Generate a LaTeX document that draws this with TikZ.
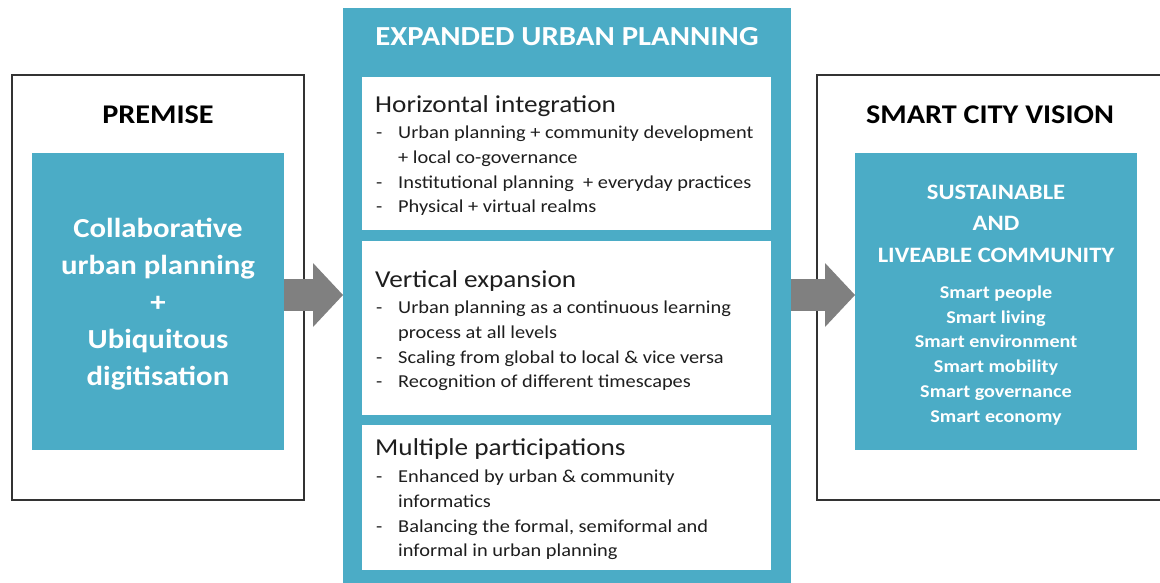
\documentclass[tikz,border=0pt]{standalone}
\usepackage{fontspec}
\setmainfont{Carlito}[FakeStretch=1.12]
\usetikzlibrary{arrows.meta}
\definecolor{tealfill}{HTML}{4BACC6}
\definecolor{arrowgray}{HTML}{808080}
\definecolor{bodytext}{HTML}{1E1E1E}
\definecolor{framegray}{HTML}{333333}
\begin{document}
\begin{tikzpicture}[x=1pt,y=-1pt,
  outerbox/.style={draw=framegray, line width=1.5pt, fill=white, inner sep=0pt, outer sep=0pt, anchor=north west},
  tealbox/.style={fill=tealfill, inner sep=0pt, outer sep=0pt, anchor=north west},
  whitebox/.style={fill=white, inner sep=0pt, outer sep=0pt, anchor=north west},
  bigarrow/.style={draw=arrowgray, line width=32pt, -{Triangle[length=30pt,width=64pt,line width=0pt]}},
  linetext/.style={inner sep=0pt, anchor=base west, text=bodytext},
  heading/.style={linetext, font=\fontsize{24.3}{28}\selectfont},
  bullet/.style={linetext, font=\fontsize{18.2}{21}\selectfont},
  title/.style={inner sep=0pt, anchor=base, font=\bfseries\fontsize{27}{32}\selectfont},
  whiteline/.style={inner sep=0pt, anchor=base, text=white},
]
\useasboundingbox (0,0) rectangle (1160,582);
\clip (0,0) rectangle (1160,582);

% outer frames
\node[outerbox, minimum width=292pt, minimum height=425pt] (premisebox) at (12,75) {};
\node[outerbox, minimum width=362pt, minimum height=425pt] (visionbox) at (817,75) {};

% teal boxes
\node[tealbox, minimum width=252pt, minimum height=297pt] (premise) at (32,153) {};
\node[tealbox, minimum width=282pt, minimum height=297pt] (community) at (855,153) {};
\node[tealbox, minimum width=448pt, minimum height=600pt] (expanded) at (343,8) {};

% white boxes in the middle
\node[whitebox, minimum width=409pt, minimum height=153pt] (horiz) at (362,77) {};
\node[whitebox, minimum width=409pt, minimum height=174pt] (vert) at (362,241) {};
\node[whitebox, minimum width=409pt, minimum height=145pt] (multi) at (362,425) {};

% arrows
\coordinate (arrowlevel) at (0,295);
\draw[bigarrow] (premise.east |- arrowlevel) -- (expanded.west |- arrowlevel);
\draw[bigarrow] (expanded.east |- arrowlevel) -- (community.west |- arrowlevel);

% titles
\node[title, text=black] (premisetitle) at (158,123) {PREMISE};
\node[title, text=black] (visiontitle) at (990,123) {SMART CITY VISION};
\node[title, text=white, font=\bfseries\fontsize{27.5}{32}\selectfont] (expandedtitle) at (567,45) {EXPANDED URBAN PLANNING};

% left inner text
\foreach \t [count=\i] in {Collaborative, urban planning, +, Ubiquitous, digitisation}
  \node[whiteline, font=\bfseries\fontsize{27.5}{32}\selectfont] (premiseline\i) at ({158},{237+37*(\i-1)}) {\t};

% right inner text
\foreach \t [count=\i] in {SUSTAINABLE, AND, LIVEABLE COMMUNITY}
  \node[whiteline, font=\bfseries\fontsize{22}{26}\selectfont] (communityline\i) at ({996},{199+31.5*(\i-1)}) {\t};
\foreach \t [count=\i] in {Smart people, Smart living, Smart environment, Smart mobility, Smart governance, Smart economy}
  \node[whiteline, font=\bfseries\fontsize{18}{22}\selectfont] (smartline\i) at ({996},{298.5+24.7*(\i-1)}) {\t};

% horizontal integration
\node[heading] (h0) at (375,112) {Horizontal integration};
\node[bullet] (h1) at (376,138) {\makebox[22pt][l]{-}Urban planning + community development};
\node[bullet] (h2) at (398,163) {+ local co-governance};
\node[bullet] (h3) at (376,188) {\makebox[22pt][l]{-}Institutional planning\ \ + everyday practices};
\node[bullet] (h4) at (376,212) {\makebox[22pt][l]{-}Physical + virtual realms};

% vertical expansion
\node[heading] (v0) at (375,287) {Vertical expansion};
\node[bullet] (v1) at (376,313) {\makebox[22pt][l]{-}Urban planning as a continuous learning};
\node[bullet] (v2) at (398,338) {process at all levels};
\node[bullet] (v3) at (376,363) {\makebox[22pt][l]{-}Scaling from global to local \& vice versa};
\node[bullet] (v4) at (376,387) {\makebox[22pt][l]{-}Recognition of different timescapes};

% multiple participations
\node[heading] (m0) at (375,455) {Multiple participations};
\node[bullet] (m1) at (376,482) {\makebox[22pt][l]{-}Enhanced by urban \& community};
\node[bullet] (m2) at (398,507) {informatics};
\node[bullet] (m3) at (376,532) {\makebox[22pt][l]{-}Balancing the formal, semiformal and};
\node[bullet] (m4) at (398,556) {informal in urban planning};
\end{tikzpicture}
\end{document}
